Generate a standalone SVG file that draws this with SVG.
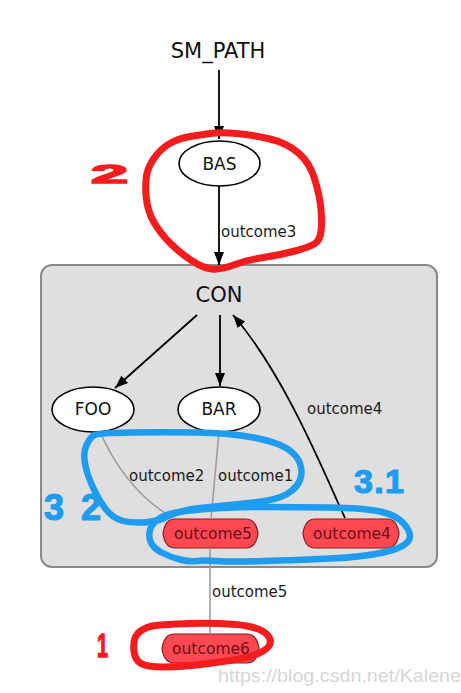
<svg xmlns="http://www.w3.org/2000/svg" width="461" height="693" viewBox="0 0 461 693">
<style>
.lbl{font-family:"DejaVu Sans",sans-serif;font-size:15px;fill:#1a1a1a}
.nt{font-family:"DejaVu Sans",sans-serif;font-size:17px;fill:#111;text-anchor:middle}
.big{font-family:"DejaVu Sans",sans-serif;font-size:21px;fill:#111;text-anchor:middle}
.ell{fill:#fff;stroke:#000;stroke-width:1.6}
.out{fill:#ff4851;stroke:#8c1a22;stroke-width:1.2}
.ot{font-family:"DejaVu Sans",sans-serif;font-size:15.5px;fill:#6a0f18;text-anchor:middle}
.e{fill:none;stroke:#000;stroke-width:1.8}
.g{fill:none;stroke:#9a9a9a;stroke-width:1.5}
.red{fill:none;stroke:#f41c1c;stroke-width:7;stroke-linecap:round;stroke-linejoin:round}
.blue{fill:none;stroke:#1d9cf0;stroke-width:6.5;stroke-linecap:round;stroke-linejoin:round}
.hr{font-family:"Liberation Sans",sans-serif;font-weight:bold;fill:#f41c1c;stroke:#f41c1c;stroke-width:1.5}
.hb{font-family:"Liberation Sans",sans-serif;font-weight:bold;fill:#1d9cf0;stroke:#1d9cf0;stroke-width:1.2}
</style>
<defs>
<marker id="ah" markerUnits="userSpaceOnUse" markerWidth="13" markerHeight="10" refX="13" refY="5" orient="auto">
<path d="M0,0 L13,5 L0,10 Z" fill="#000"/>
</marker>
</defs>
<rect width="461" height="693" fill="#fff"/>
<g id="CON_box">
<rect x="41" y="265" width="396" height="302" rx="11" fill="#dfdfdf" stroke="#8a8a8a" stroke-width="2"/>
<text class="big" x="219" y="302">CON</text>
</g>
<g id="SM_PATH"><text class="big" x="218" y="58">SM_PATH</text></g>
<g id="BAS"><ellipse class="ell" cx="219.5" cy="163.5" rx="40.5" ry="22.5"/><text class="nt" x="219.5" y="170">BAS</text></g>
<g id="FOO"><ellipse class="ell" cx="93" cy="409.5" rx="41" ry="22.5"/><text class="nt" x="93" y="415">FOO</text></g>
<g id="BAR"><ellipse class="ell" cx="219" cy="409.5" rx="41" ry="22.5"/><text class="nt" x="219" y="415">BAR</text></g>
<g id="outcome5"><path class="out" d="M175,519 H246 Q256,519 258,533.5 Q256,548 246,548 H175 Q165,548 163,533.5 Q165,519 175,519 Z"/><text class="ot" x="213" y="539">outcome5</text></g>
<g id="outcome4"><path class="out" d="M315,519 H387 Q397,519 399,533.5 Q397,548 387,548 H315 Q305,548 303,533.5 Q305,519 315,519 Z"/><text class="ot" x="352" y="539">outcome4</text></g>
<g id="outcome6"><path class="out" d="M174,634 H247 Q257,634 259,648.5 Q257,663 247,663 H174 Q164,663 162,648.5 Q164,634 174,634 Z"/><text class="ot" x="211" y="654">outcome6</text></g>
<g id="connectors">
<line class="e" x1="219" y1="70" x2="219" y2="139" marker-end="url(#ah)"/>
<line class="e" x1="219" y1="186" x2="219" y2="265" marker-end="url(#ah)"/>
<line class="e" x1="197" y1="315" x2="115" y2="388" marker-end="url(#ah)"/>
<line class="e" x1="220" y1="315" x2="220" y2="386" marker-end="url(#ah)"/>
<path class="e" d="M345,518 C325,475 285,375 233,315" marker-end="url(#ah)"/>
<path class="g" d="M100,432 Q125,488 168,515"/>
<path class="g" d="M219,432 L211,519"/>
<line class="g" x1="210" y1="548" x2="210" y2="634"/>
<text class="lbl" x="221" y="237">outcome3</text>
<text class="lbl" x="307" y="414">outcome4</text>
<text class="lbl" x="129" y="481">outcome2</text>
<text class="lbl" x="218" y="481">outcome1</text>
<text class="lbl" x="212" y="597">outcome5</text>
</g>
<g id="annotations">
<path class="red" d="M210,133.5 Q220,132 236.5,133.5 Q253,135 270,139 Q287,143 298.5,153 Q310,163 315,180 Q320,197 321,210 Q322,223 321,231.5 Q320,240 315,243.5 Q310,247 295,251 Q280,255 263.5,257.5 Q247,260 233.5,265 Q220,270 211.5,269 Q203,268 191.5,260.5 Q180,253 170,243 Q160,233 153.5,221.5 Q147,210 146,195 Q145,180 147.5,171.5 Q150,163 156.5,155 Q163,147 171.5,142.5 Q180,138 190,136.5 Q200,135 210,133.5 Z"/>
<path class="blue" d="M93.5,435.5 Q97,433 130,432.5 Q163,432 196.5,432.5 Q230,433 253.5,437.5 Q277,442 287,448.5 Q297,455 300,463.5 Q303,472 300,480 Q297,488 287,494 Q277,500 253.5,502.5 Q230,505 205,507.5 Q180,510 168.5,516 Q157,522 143.5,522.5 Q130,523 121.5,520.5 Q113,518 106.5,510 Q100,502 93.5,488.5 Q87,475 85,463.5 Q83,452 86.5,445 Q90,438 93.5,435.5 Z"/>
<path class="blue" d="M161.5,517 Q170,512 200,509.5 Q230,507 263.5,507 Q297,507 330,507.5 Q363,508 380,511.5 Q397,515 405,525 Q413,535 408,541.5 Q403,548 383,552.5 Q363,557 330,558.5 Q297,560 263.5,561 Q230,562 216.5,561 Q203,560 196.5,561 Q190,562 180,559.5 Q170,557 161.5,552.5 Q153,548 150.5,541.5 Q148,535 150.5,528.5 Q153,522 161.5,517 Z"/>
<path class="red" d="M152,626 Q157,625 177,624 Q197,623 218.5,623.5 Q240,624 251.5,627 Q263,630 267.5,635 Q272,640 269.5,645 Q267,650 257,654 Q247,658 230,660.5 Q213,663 196.5,665 Q180,667 163.5,667 Q147,667 141,663.5 Q135,660 134,651.5 Q133,643 135,638 Q137,633 142,630 Q147,627 152,626 Z"/>
<text class="hr" x="91" y="183" font-size="26" textLength="37" lengthAdjust="spacingAndGlyphs">2</text>
<text class="hb" x="354" y="493" font-size="34" textLength="50" lengthAdjust="spacing">3.1</text>
<text class="hb" x="44" y="520" font-size="36" textLength="57" lengthAdjust="spacing">3 2</text>
<text class="hr" x="97" y="657" font-size="34" textLength="11" lengthAdjust="spacingAndGlyphs">1</text>
</g>
<text x="218" y="682" font-family="Liberation Sans,sans-serif" font-size="18.5" fill="#d6d6d6" textLength="243" lengthAdjust="spacingAndGlyphs">https://blog.csdn.net/Kalene</text>
</svg>
